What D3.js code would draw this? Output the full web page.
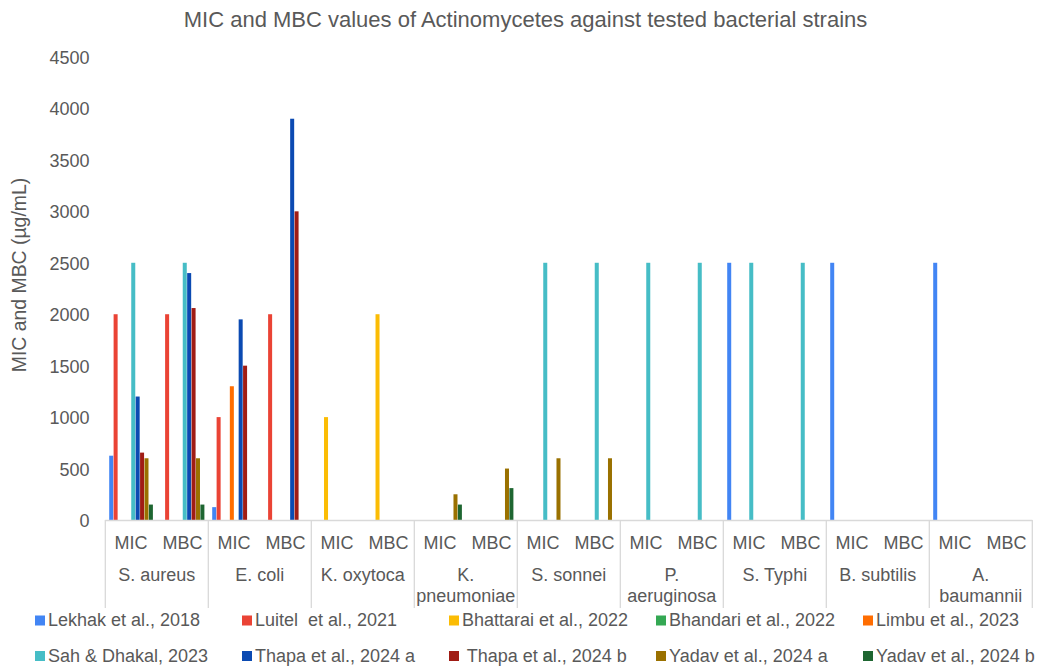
<!DOCTYPE html>
<html><head><meta charset="utf-8">
<script src="https://cdn.jsdelivr.net/npm/d3@7"></script>
<style>
body{margin:0;background:#fff;}
text{font-family:"Liberation Sans",Arial,sans-serif;fill:#595959;}
</style></head>
<body><svg id="c" width="1041" height="667"></svg>
<script>
const organisms = [["S. aureus"],["E. coli"],["K. oxytoca"],["K.","pneumoniae"],["S. sonnei"],["P.","aeruginosa"],["S. Typhi"],["B. subtilis"],["A.","baumannii"]];
const measures = ["MIC","MBC"];
const seriesNames = ["Lekhak et al., 2018","Luitel  et al., 2021","Bhattarai et al., 2022","Bhandari et al., 2022","Limbu et al., 2023","Sah & Dhakal, 2023","Thapa et al., 2024 a"," Thapa et al., 2024 b","Yadav et al., 2024 a","Yadav et al., 2024 b"];
const colors = ["#4285F4","#EA4335","#FBBC04","#34A853","#FF6D01","#46BDC6","#0B4AB2","#A01C14","#9A7100","#1E6631"];
// values in order: S.aureus MIC, MBC, E.coli MIC, MBC, K.oxytoca MIC, MBC, K.pneumoniae MIC, MBC, S.sonnei MIC, MBC, P.aeruginosa MIC, MBC, S.Typhi MIC, MBC, B.subtilis MIC, MBC, A.baumannii MIC, MBC
const lekhak    = [625,null,125,null,null,null,null,null,null,null,null,null,2500,null,2500,null,2500,null];
const luitel    = [2000,2000,1000,2000,null,null,null,null,null,null,null,null,null,null,null,null,null,null];
const bhattarai = [null,null,null,null,1000,2000,null,null,null,null,null,null,null,null,null,null,null,null];
const bhandari  = [null,null,null,null,null,null,null,null,null,null,null,null,null,null,null,null,null,null];
const limbu     = [null,null,1300,null,null,null,null,null,null,null,null,null,null,null,null,null,null,null];
const sah       = [2500,2500,null,null,null,null,null,null,2500,2500,2500,2500,2500,2500,null,null,null,null];
const thapaA    = [1200,2400,1950,3900,null,null,null,null,null,null,null,null,null,null,null,null,null,null];
const thapaB    = [655,2060,1500,3000,null,null,null,null,null,null,null,null,null,null,null,null,null,null];
const yadavA    = [600,600,null,null,null,null,250,500,600,600,null,null,null,null,null,null,null,null];
const yadavB    = [150,150,null,null,null,null,150,310,null,null,null,null,null,null,null,null,null,null];
const seriesValues = [lekhak,luitel,bhattarai,bhandari,limbu,sah,thapaA,thapaB,yadavA,yadavB];
const yTicks = [0,500,1000,1500,2000,2500,3000,3500,4000,4500];

const svg = d3.select("#c");
const x0 = 105.3, x1 = 1032.3, yBase = 520, yTop = 57;
const subcats = [];
organisms.forEach((o,i)=>measures.forEach(m=>subcats.push(i+"|"+m)));
const xOrg = d3.scaleBand().domain(organisms.map((d,i)=>i)).range([x0,x1]);
const xSub = d3.scaleBand().domain(subcats).range([x0,x1]);
const xSer = d3.scaleBand().domain(d3.range(seriesNames.length)).range([3.7, xSub.bandwidth()-3.7]);
const y = d3.scaleLinear().domain([0,4500]).range([yBase,yTop]);

// title
svg.append("text").attr("x",525.5).attr("y",27).attr("text-anchor","middle")
  .style("font-size","22px").text("MIC and MBC values of Actinomycetes against tested bacterial strains");

// y axis labels
const yAxis = d3.axisLeft(y).tickValues(yTicks).tickFormat(d3.format("d")).tickSize(0).tickPadding(0);
const gy = svg.append("g").attr("transform","translate(89.5,0)").call(yAxis);
gy.select(".domain").remove();
gy.selectAll("text").style("font-size","18px").style("fill","#595959").attr("font-family",null).attr("dy","0.36em");

svg.append("text").attr("transform","translate(26,275) rotate(-90)").attr("text-anchor","middle")
  .style("font-size","19.4px").text("MIC and MBC (µg/mL)");

// bars
seriesValues.forEach((vals,si)=>{
  svg.append("g").selectAll("rect").data(vals.map((v,i)=>({v,i})).filter(d=>d.v!=null))
    .join("rect")
    .attr("x",d=>xSub(subcats[d.i])+xSer(si)+0.2)
    .attr("width",xSer.bandwidth()-0.4)
    .attr("y",d=>y(d.v))
    .attr("height",d=>yBase-y(d.v))
    .attr("fill",colors[si]);
});

// x axis
const ax = svg.append("g");
ax.append("line").attr("x1",x0).attr("x2",x1).attr("y1",yBase+0.5).attr("y2",yBase+0.5).attr("stroke","#d9d9d9").attr("stroke-width",1.3);
const bounds = organisms.map((d,i)=>xOrg(i)).concat([x1]);
ax.selectAll("line.div").data(bounds).join("line").attr("class","div")
  .attr("x1",d=>d).attr("x2",d=>d).attr("y1",yBase).attr("y2",608)
  .attr("stroke","#d9d9d9").attr("stroke-width",1.3);
ax.selectAll("text.m").data(subcats).join("text").attr("class","m")
  .attr("x",d=>xSub(d)+xSub.bandwidth()/2).attr("y",548.5).attr("text-anchor","middle")
  .style("font-size","18px").text(d=>d.split("|")[1]);
organisms.forEach((lines,i)=>{
  lines.forEach((t,j)=>{
    ax.append("text").attr("x",xOrg(i)+xOrg.bandwidth()/2).attr("y",581+j*20.5)
      .attr("text-anchor","middle").style("font-size","18px").text(t);
  });
});

// legend
const leg = svg.append("g");
seriesNames.forEach((n,i)=>{
  const col = i%5, row = Math.floor(i/5);
  const lx = 35 + col*207, ly = 620 + row*35.5;
  leg.append("rect").attr("x",lx).attr("y",ly-4.5).attr("width",10).attr("height",10).attr("fill",colors[i]);
  leg.append("text").attr("x",lx+13).attr("y",ly).attr("dy","0.35em")
    .style("font-size","18px").style("white-space","pre").text(n);
});
</script></body></html>
